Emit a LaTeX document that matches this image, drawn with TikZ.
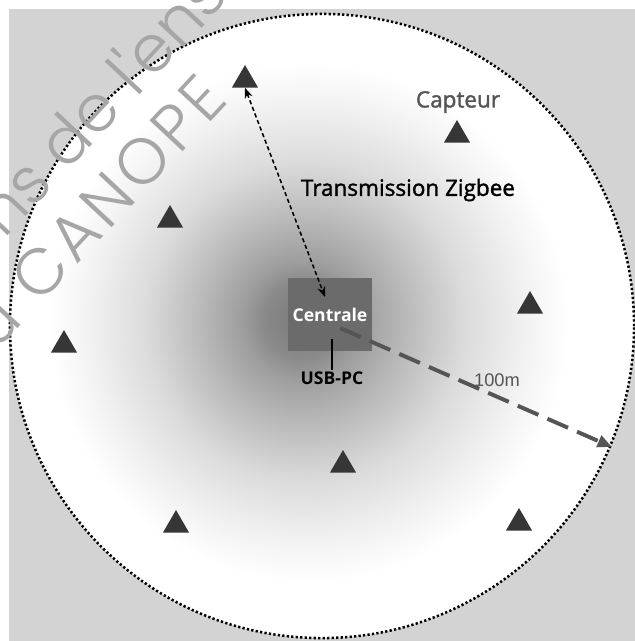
\documentclass[tikz,border=0pt]{standalone}
\usepackage{fontspec}
\setmainfont{Open Sans}
\newfontfamily\labfont{Open Sans}[FakeBold=1.6]
\IfFontExistsTF{Poppins Light}{\newfontfamily\wmfont{Poppins Light}}{\newfontfamily\wmfont{Poppins}}
\newfontfamily\arialfont{Liberation Sans}
\usepackage{xcolor}
\usetikzlibrary{arrows.meta, positioning, shapes.geometric}

\definecolor{bggray}{HTML}{D3D3D3}
\definecolor{hubgray}{HTML}{6B6B6B}
\definecolor{trigray}{HTML}{363636}
\definecolor{labgray}{HTML}{555555}

% radial glow around the central unit (25bp = circle radius)
\pgfdeclareradialshading{glow}{\pgfpoint{-1.8bp}{0.5bp}}{%
  color(0bp)=(black!52); color(3bp)=(black!46); color(4.8bp)=(black!38);
  color(8bp)=(black!28); color(10.4bp)=(black!21); color(12.8bp)=(black!14);
  color(17.6bp)=(black!5); color(20.8bp)=(white); color(50bp)=(white)}

\begin{document}
\begin{tikzpicture}[
        x=0.025cm, y=-0.025cm,
        sensor/.style={regular polygon, regular polygon sides=3, fill=trigray, minimum size=0.75cm, inner sep=0pt},
        hubbox/.style={rectangle, fill=hubgray, minimum width=2.05cm, minimum height=1.825cm, text=white, font=\fontsize{12.5}{15}\selectfont\bfseries},
        tag/.style={inner sep=1pt, font=\labfont\fontsize{16}{19}\selectfont},
        radio/.style={{Stealth[length=2.6mm, width=2mm]}-{Stealth[length=2.6mm, width=2mm]}, line width=1.1pt, dash pattern=on 3pt off 2pt},
        spanline/.style={-{Triangle[length=3.6mm, width=3mm]}, line width=2.8pt, draw=labgray, dash pattern=on 16pt off 7pt},
        border/.style={draw=black, line width=1.8pt, dash pattern=on 1.6pt off 1.6pt},
        stamp/.style={anchor=base west, rotate=47, inner sep=0pt, text=black!35, font=\wmfont\fontsize{46}{50}\selectfont},
    ]
        \useasboundingbox (0,0) rectangle (635,641);
        \fill[white] (0,0) rectangle (635,641);
        \fill[bggray] (9,9) rectangle (635,641);

        % Coverage zone
        \path[shading=glow] (322,326) circle[radius=7.8cm];
        \draw[border] (322,326) circle[radius=7.8cm];

        % Central unit
        \node[hubbox] (hub) at (330,314.5) {Centrale};
        \node[inner sep=1pt, font=\fontsize{12.5}{15}\selectfont\bfseries] (usb) at (332,378) {USB-PC};
        \coordinate (plug) at (332,339);
        \coordinate (hubin) at (325,297);
        \coordinate (hubout) at (340,328);
        \coordinate (rimpt) at (612,447);

        % Sensors
        \node[sensor] (s1) at (245,80) {};
        \node[sensor] (s2) at (457,135) {};
        \node[sensor] (s3) at (170,220) {};
        \node[sensor] (s4) at (64,345) {};
        \node[sensor] (s5) at (530,306) {};
        \node[sensor] (s6) at (343,465) {};
        \node[sensor] (s7) at (176,525) {};
        \node[sensor] (s8) at (519,523) {};

        % Labels
        \node[tag, text=labgray] (capteur) at (458,102) {Capteur};
        \node[tag] (zigbee) at (408,190) {Transmission Zigbee};
        \node[inner sep=1pt, text=labgray, font=\arialfont\fontsize{13}{15}\selectfont] (dist) at (497,380) {100m};

        % Links
        \draw[radio] (s1.south) -- (hubin);
        \draw[line width=2pt] (plug) -- (usb.north);
        \draw[spanline] (hubout) -- (rimpt);

        % Watermark
        \begin{scope}
            \clip (0,0) rectangle (635,641);
            \node[stamp] (wm1) at (4,240) {ns de l'enseig};
            \node[stamp] (wm2) at (-4,352) {\addfontfeatures{LetterSpace=7}u CANOPE};
        \end{scope}
    \end{tikzpicture}
\end{document}
